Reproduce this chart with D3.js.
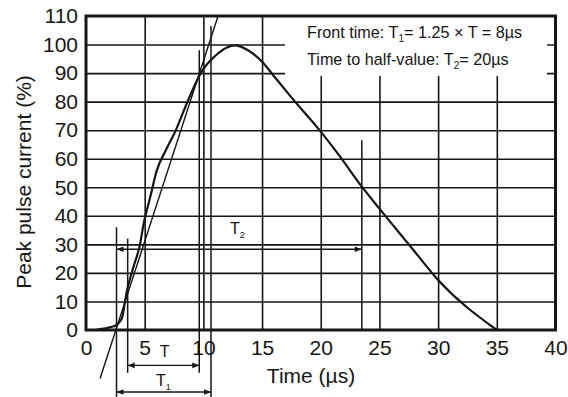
<!DOCTYPE html>
<html>
<head>
<meta charset="utf-8">
<script src="https://cdn.jsdelivr.net/npm/d3@7"></script>
<style>
  body { margin: 0; background: #fff; }
  svg { display: block; font-family: 'Liberation Sans', Arial, sans-serif; }
</style>
</head>
<body>
<div class="svg-container"></div>
<script>
// surge waveform 8/20us
const pulseTime = [0.8, 1.5, 2.1, 2.6, 3.05, 3.45, 4.0, 4.6, 4.9, 5.5, 6.0, 6.8, 7.6, 8.7, 9.85, 11.0, 12.0, 12.7, 13.8, 15.0, 16.0, 17.5, 20.0, 21.6, 23.5, 25.0, 27.7, 30.0, 35.0]
const pulseCurrent = [0, 0.5, 1, 1.8, 4, 13, 21.5, 30, 37, 47, 55.5, 63, 69.5, 80.5, 90.5, 96, 99, 99.7, 98, 94, 89, 81.5, 69.5, 61, 50.2, 42.5, 29, 17.5, 0]

// straight line through the 10% and 90% points
const frontTime = [1.2, 11.25]
const frontCurrent = [-17, 110]

const xTicks = [0, 5, 10, 15, 20, 25, 30, 35, 40]
const yTicks = [0, 10, 20, 30, 40, 50, 60, 70, 80, 90, 100, 110]

// helper verticals: T1 start, T start, T end, T1 end, T2 end
const markerTime = [2.6, 3.55, 9.65, 10.65, 23.5]
const markerTop = [36, 32, 98, 106.5, 66.5]
const markerBottom = [-23.5, -15, -15, -23.5, 0]

// dimension arrows
const arrowNames = ['T', 'T1', 'T2']
const arrowFrom = [3.55, 2.6, 2.6]
const arrowTo = [9.65, 10.65, 23.5]
const arrowLevel = [-12.4, -21.7, 28.3]

const noteLines = [
  ['Front time: T', '1', '= 1.25 \u00d7 T = 8\u00b5s'],
  ['Time to half-value: T', '2', '= 20\u00b5s']
]

;(function init() {
  const width = 568
  const height = 397
  const left = 86
  const right = 555.5
  const top = 16
  const bottom = 330
  const ink = '#161616'

  const xScale = d3.scaleLinear().domain([0, 40]).range([left, right])
  const yScale = d3.scaleLinear().domain([0, 110]).range([bottom, top])

  const svg = d3
    .select('.svg-container')
    .append('svg')
    .attr('width', width)
    .attr('height', height)

  const defs = svg.append('defs')
  defs
    .append('marker')
    .attr('id', 'head')
    .attr('viewBox', '0 0 10 10')
    .attr('refX', 10)
    .attr('refY', 5)
    .attr('markerWidth', 9)
    .attr('markerHeight', 7)
    .attr('markerUnits', 'userSpaceOnUse')
    .attr('orient', 'auto-start-reverse')
    .append('path')
    .attr('d', 'M0,1 L10,5 L0,9 Z')
    .attr('fill', ink)

  // grid
  svg
    .append('g')
    .attr('class', 'grid')
    .attr('transform', 'translate(0,' + bottom + ')')
    .call(d3.axisBottom(xScale).tickValues(xTicks.slice(1, -1)).tickSize(-(bottom - top)).tickFormat(''))
  svg
    .append('g')
    .attr('class', 'grid')
    .attr('transform', 'translate(' + left + ',0)')
    .call(d3.axisLeft(yScale).tickValues(yTicks.slice(1, -1)).tickSize(-(right - left)).tickFormat(''))
  svg.selectAll('.grid .domain').remove()
  svg.selectAll('.grid line').attr('stroke', ink).attr('stroke-width', 1.6)

  // note box hides the grid underneath
  svg
    .append('rect')
    .attr('x', 285)
    .attr('y', top)
    .attr('width', 262)
    .attr('height', 60)
    .attr('fill', '#fff')

  const note = svg
    .append('g')
    .selectAll('text')
    .data(noteLines)
    .enter()
    .append('text')
    .attr('x', 307)
    .attr('y', (d, i) => 38 + i * 27)
    .attr('font-size', 16.2)
    .attr('fill', ink)
  note.append('tspan').text((d) => d[0])
  note.append('tspan').attr('font-size', 10).attr('dy', 4).text((d) => d[1])
  note.append('tspan').attr('dy', -4).text((d) => d[2])

  // axes labels
  const xAxis = d3.axisBottom(xScale).tickValues(xTicks).tickSize(0).tickPadding(10)
  const yAxis = d3.axisLeft(yScale).tickValues(yTicks).tickSize(0).tickPadding(8)

  svg
    .append('g')
    .attr('class', 'axis')
    .attr('transform', 'translate(0,' + bottom + ')')
    .call(xAxis)
  svg
    .append('g')
    .attr('class', 'axis')
    .attr('transform', 'translate(' + left + ',0)')
    .call(yAxis)
  svg.selectAll('.axis .domain').remove()
  svg
    .selectAll('.axis text')
    .attr('font-size', 21)
    .attr('font-family', "'Liberation Sans', Arial, sans-serif")
    .attr('fill', ink)

  svg
    .append('text')
    .attr('x', 311)
    .attr('y', 383)
    .attr('text-anchor', 'middle')
    .attr('font-size', 21)
    .attr('fill', ink)
    .text('Time (\u00b5s)')

  svg
    .append('text')
    .attr('transform', 'translate(31,' + 182 + ') rotate(-90)')
    .attr('text-anchor', 'middle')
    .attr('font-size', 21)
    .attr('fill', ink)
    .text('Peak pulse current (%)')

  // helper verticals
  svg
    .append('g')
    .selectAll('line')
    .data(markerTime)
    .enter()
    .append('line')
    .attr('x1', (d) => xScale(d))
    .attr('x2', (d) => xScale(d))
    .attr('y1', (d, i) => yScale(markerTop[i]))
    .attr('y2', (d, i) => yScale(markerBottom[i]))
    .attr('stroke', ink)
    .attr('stroke-width', 1.5)

  // arrows
  svg
    .append('g')
    .selectAll('line')
    .data(arrowNames)
    .enter()
    .append('line')
    .attr('x1', (d, i) => xScale(arrowFrom[i]))
    .attr('x2', (d, i) => xScale(arrowTo[i]))
    .attr('y1', (d, i) => yScale(arrowLevel[i]))
    .attr('y2', (d, i) => yScale(arrowLevel[i]))
    .attr('stroke', ink)
    .attr('stroke-width', 1.4)
    .attr('marker-start', 'url(#head)')
    .attr('marker-end', 'url(#head)')

  const labelX = [6.7, 6.6, 12.9]
  const labelY = [-9.5, -19.5, 33.5]
  const labels = svg
    .append('g')
    .selectAll('text')
    .data(arrowNames)
    .enter()
    .append('text')
    .attr('x', (d, i) => xScale(labelX[i]))
    .attr('y', (d, i) => yScale(labelY[i]))
    .attr('font-size', 16)
    .attr('text-anchor', 'middle')
    .attr('fill', ink)
  labels.append('tspan').text('T')
  labels
    .append('tspan')
    .attr('font-size', 9)
    .attr('dy', 4)
    .text((d) => d.slice(1))

  // front line
  svg
    .append('path')
    .datum(frontTime)
    .attr('fill', 'none')
    .attr('stroke', ink)
    .attr('stroke-width', 1.4)
    .attr(
      'd',
      d3
        .line()
        .x((d) => xScale(d))
        .y((d, i) => yScale(frontCurrent[i]))
    )

  // pulse
  svg
    .append('path')
    .datum(pulseTime)
    .attr('fill', 'none')
    .attr('stroke', ink)
    .attr('stroke-width', 2.2)
    .attr('stroke-linejoin', 'round')
    .attr(
      'd',
      d3
        .line()
        .curve(d3.curveMonotoneX)
        .x((d) => xScale(d))
        .y((d, i) => yScale(pulseCurrent[i]))
    )

  // frame
  svg
    .append('rect')
    .attr('x', left)
    .attr('y', top)
    .attr('width', right - left)
    .attr('height', bottom - top)
    .attr('fill', 'none')
    .attr('stroke', ink)
    .attr('stroke-width', 3)
})()
</script>
</body>
</html>
